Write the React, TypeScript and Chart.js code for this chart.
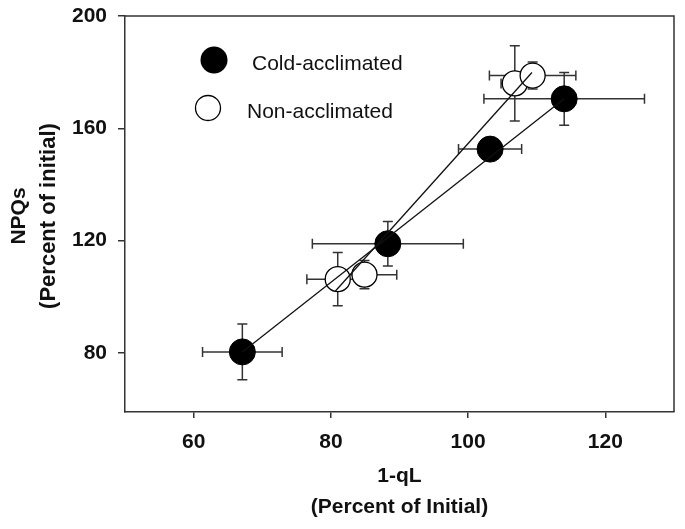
import React, { useEffect, useRef } from "react";
import { Chart, registerables } from "chart.js";
Chart.register(...registerables);

const seriesNames = ["Cold-acclimated", "Non-acclimated"];
const coldX = [67.1, 88.3, 103.2, 114.0];
const coldY = [80.4, 118.9, 152.6, 170.5];
const coldXErr = [5.8, 11.0, 4.6, 11.7];
const coldYErr = [9.9, 7.9, 3.0, 9.4];
const nonX = [81.0, 84.9, 106.8, 109.4];
const nonY = [106.3, 107.9, 176.0, 178.8];
const nonXErr = [4.5, 4.7, 2.0, 6.3];
const nonYErr = [9.5, 5.0, 13.4, 4.8];
const coldFitX = [67.1, 114.0];
const coldFitY = [80.4, 170.5];
const nonFitX = [80.6, 109.3];
const nonFitY = [101.9, 179.9];
const xTicks = [60, 80, 100, 120];
const yTicks = [80, 120, 160, 200];
const xTitle = ["1-qL", "(Percent of Initial)"];
const yTitle = ["NPQs", "(Percent of initial)"];

const FONT = '"Liberation Sans", Arial, sans-serif';
const AXIS = "#333";

const errorBars = {
  id: "errorBars",
  beforeDatasetsDraw(chart: any) {
    const ctx = chart.ctx;
    const xs = chart.scales.x;
    const ys = chart.scales.y;
    ctx.save();
    ctx.strokeStyle = AXIS;
    ctx.lineWidth = 1.5;
    chart.data.datasets.forEach((ds: any) => {
      if (!ds.errX) return;
      ds.data.forEach((p: any, i: number) => {
        const cx = xs.getPixelForValue(p.x);
        const cy = ys.getPixelForValue(p.y);
        const x1 = xs.getPixelForValue(p.x - ds.errX[i]);
        const x2 = xs.getPixelForValue(p.x + ds.errX[i]);
        const y1 = ys.getPixelForValue(p.y - ds.errY[i]);
        const y2 = ys.getPixelForValue(p.y + ds.errY[i]);
        const c = 5;
        ctx.beginPath();
        ctx.moveTo(x1, cy); ctx.lineTo(x2, cy);
        ctx.moveTo(x1, cy - c); ctx.lineTo(x1, cy + c);
        ctx.moveTo(x2, cy - c); ctx.lineTo(x2, cy + c);
        ctx.moveTo(cx, y1); ctx.lineTo(cx, y2);
        ctx.moveTo(cx - c, y1); ctx.lineTo(cx + c, y1);
        ctx.moveTo(cx - c, y2); ctx.lineTo(cx + c, y2);
        ctx.stroke();
      });
    });
    ctx.restore();
  },
};

const frameAndText = {
  id: "frameAndText",
  afterDraw(chart: any) {
    const ctx = chart.ctx;
    const a = chart.chartArea;
    ctx.save();
    ctx.strokeStyle = AXIS;
    ctx.lineWidth = 1.5;
    ctx.beginPath();
    ctx.moveTo(a.left, a.top);
    ctx.lineTo(a.right, a.top);
    ctx.lineTo(a.right, a.bottom);
    ctx.stroke();

    // legend
    ctx.fillStyle = "#000";
    ctx.beginPath();
    ctx.arc(214, 60, 13.5, 0, Math.PI * 2);
    ctx.fill();
    ctx.fillStyle = "#fff";
    ctx.strokeStyle = "#000";
    ctx.lineWidth = 1.3;
    ctx.beginPath();
    ctx.arc(208, 108, 12.5, 0, Math.PI * 2);
    ctx.fill();
    ctx.stroke();
    ctx.fillStyle = "#111";
    ctx.font = `21px ${FONT}`;
    ctx.textAlign = "left";
    ctx.textBaseline = "alphabetic";
    ctx.fillText(seriesNames[0], 252, 70);
    ctx.fillText(seriesNames[1], 247, 118);

    // axis titles
    ctx.font = `bold 21px ${FONT}`;
    ctx.textAlign = "center";
    ctx.textBaseline = "middle";
    const cx = (a.left + a.right) / 2;
    ctx.fillText(xTitle[0], cx, 476);
    ctx.fillText(xTitle[1], cx, 507);
    ctx.save();
    ctx.translate(19, 216);
    ctx.rotate(-Math.PI / 2);
    ctx.fillText(yTitle[0], 0, 0);
    ctx.restore();
    ctx.save();
    ctx.translate(49, 216);
    ctx.rotate(-Math.PI / 2);
    ctx.font = `bold 22px ${FONT}`;
    ctx.fillText(yTitle[1], 0, 0);
    ctx.restore();
    ctx.restore();
  },
};

export default function App() {
  const ref = useRef<HTMLCanvasElement>(null);
  useEffect(() => {
    if (!ref.current) return;
    const tickFont = { family: FONT, size: 21, weight: "bold" as const };
    const chart = new Chart(ref.current, {
      type: "scatter",
      data: {
        datasets: [
          {
            label: seriesNames[0],
            data: coldX.map((x, i) => ({ x, y: coldY[i] })),
            errX: coldXErr,
            errY: coldYErr,
            pointRadius: 13,
            pointBackgroundColor: "#000",
            pointBorderColor: "#000",
            pointBorderWidth: 1,
            showLine: false,
            order: 2,
          } as any,
          {
            label: seriesNames[1],
            data: nonX.map((x, i) => ({ x, y: nonY[i] })),
            errX: nonXErr,
            errY: nonYErr,
            pointRadius: 12.5,
            pointBackgroundColor: "#fff",
            pointBorderColor: "#000",
            pointBorderWidth: 1.3,
            showLine: false,
            order: 2,
          } as any,
          {
            label: "cold fit",
            data: coldFitX.map((x, i) => ({ x, y: coldFitY[i] })),
            showLine: true,
            pointRadius: 0,
            borderColor: "#111",
            borderWidth: 1.3,
            order: 1,
          },
          {
            label: "non fit",
            data: nonFitX.map((x, i) => ({ x, y: nonFitY[i] })),
            showLine: true,
            pointRadius: 0,
            borderColor: "#111",
            borderWidth: 1.3,
            order: 1,
          },
        ],
      },
      options: {
        responsive: false,
        animation: false,
        events: [],
        layout: { autoPadding: false, padding: { top: 16, right: 11, left: 0, bottom: 0 } },
        plugins: { legend: { display: false }, tooltip: { enabled: false } },
        scales: {
          x: {
            type: "linear",
            min: 50,
            max: 130,
            afterBuildTicks: (s: any) => {
              s.ticks = xTicks.map((v) => ({ value: v }));
            },
            afterFit: (s: any) => {
              s.height = 117;
              s.paddingRight = 0;
              s.paddingLeft = 0;
            },
            grid: { drawOnChartArea: false, drawTicks: true, tickLength: 6, color: AXIS, lineWidth: 1.5 },
            border: { display: true, color: AXIS, width: 1.5 },
            ticks: { font: tickFont, color: "#111", padding: 12, maxRotation: 0 },
          },
          y: {
            type: "linear",
            min: 59,
            max: 200,
            afterBuildTicks: (s: any) => {
              s.ticks = yTicks.map((v) => ({ value: v }));
            },
            afterFit: (s: any) => {
              s.width = 125;
              s.paddingTop = 0;
              s.paddingBottom = 0;
            },
            grid: { drawOnChartArea: false, drawTicks: true, tickLength: 7, color: AXIS, lineWidth: 1.5 },
            border: { display: true, color: AXIS, width: 1.5 },
            ticks: { font: tickFont, color: "#111", padding: 11 },
          },
        },
      },
      plugins: [errorBars, frameAndText],
    });
    return () => chart.destroy();
  }, []);
  return (
    <div style={{ position: "absolute", left: 0, top: 0, width: 685, height: 529, background: "#fff" }}>
      <canvas ref={ref} width={685} height={529} />
    </div>
  );
}
